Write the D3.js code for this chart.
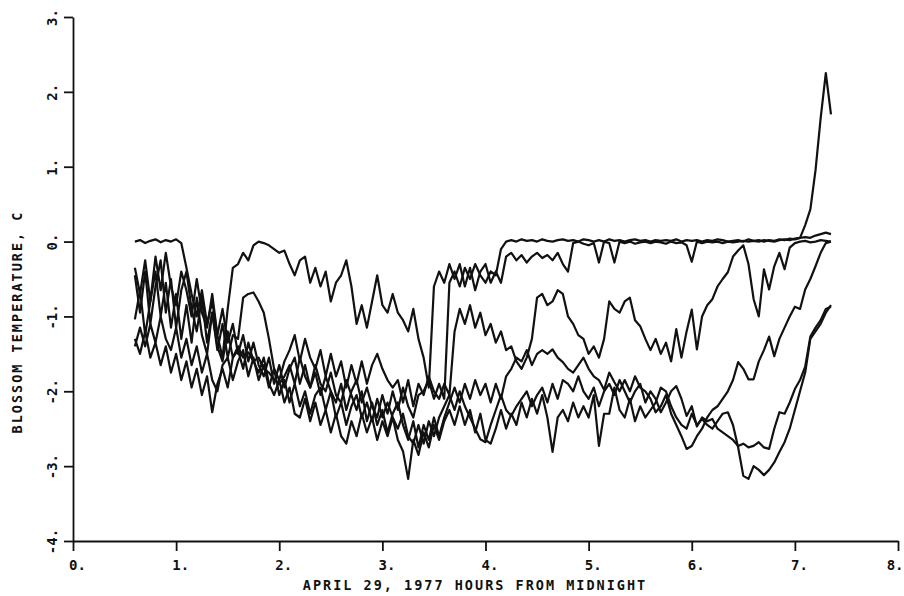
<!DOCTYPE html>
<html>
<head>
<meta charset="utf-8">
<script src="https://cdn.jsdelivr.net/npm/d3@7"></script>
<style>
  body { margin: 0; background: #fff; }
  text { font-family: "DejaVu Sans Mono", monospace; font-weight: bold; fill: #111; }
</style>
</head>
<body>
<svg width="904" height="596"></svg>
<script>
var svg = d3.select("svg"),
    width = +svg.attr("width"),
    height = +svg.attr("height");

// readings: one value every 0.05 h, starting at 0.60 h
var startHour = 0.6, stepHour = 0.05;

var xTicks = [0, 1, 2, 3, 4, 5, 6, 7, 8];
var yTicks = [-4, -3, -2, -1, 0, 1, 2, 3];

var blossom1 = [
  0.0, 0.02, -0.02, 0.01, 0.03, -0.01, 0.02, 0.0, 0.03, -0.02,
  -0.35, -0.7, -1.0, -0.65, -1.1, -0.8, -1.25, -0.9, -1.35, -1.1,
  -1.5, -1.25, -1.6, -1.35, -1.65, -1.8, -1.55, -1.9, -1.65, -1.95,
  -1.7, -1.55, -1.9, -1.65, -1.95, -1.75, -2.05, -1.8, -2.0, -2.15,
  -1.9, -2.25, -2.0, -1.85, -2.15, -1.95, -2.2, -2.35, -2.05, -2.3,
  -2.0, -2.25, -1.95, -2.2, -2.35, -2.05, -2.0, -1.85, -2.1, -1.9,
  -2.1, -0.55, -0.4, -0.6, -0.35, -0.5, -0.3, -0.45, -0.55, -0.4,
  -0.45, -0.1, 0.0, 0.02, 0.0, 0.03, 0.01, 0.02, 0.0, 0.03,
  0.01, 0.0, 0.02, 0.03, 0.01, 0.02, 0.0, 0.03, 0.02, 0.0,
  0.02, 0.0, 0.03, 0.01, 0.02, 0.0, 0.02, 0.03, 0.01, 0.02,
  0.0, 0.02, 0.01, 0.02, 0.01, 0.03, 0.0, 0.02, 0.01, 0.02,
  0.0, 0.02, 0.01, 0.03, 0.02, 0.0, 0.01, 0.02, 0.0, 0.03,
  0.01, 0.02, 0.0, 0.02, 0.01, 0.03, 0.02, 0.04, 0.03, 0.05,
  0.22, 0.43, 0.95, 1.65, 2.25, 1.7
];

var blossom2 = [
  -0.35, -0.7, -0.25, -0.8, -0.2, -0.65, -0.15, -0.6, -0.85, -0.4,
  -0.65, -1.0, -0.5, -0.95, -1.15, -0.7, -1.25, -1.55, -0.9, -0.35,
  -0.3, -0.15, -0.25, -0.05, 0.0, -0.02, -0.05, -0.1, -0.15, -0.12,
  -0.3, -0.45, -0.25, -0.2, -0.55, -0.35, -0.6, -0.4, -0.8, -0.55,
  -0.45, -0.25, -0.6, -1.1, -0.85, -1.15, -0.8, -0.45, -0.85, -0.95,
  -0.7, -0.95, -1.05, -1.2, -0.9, -1.3, -1.55, -1.95, -0.6, -0.4,
  -0.55, -0.3, -0.5, -0.3, -0.6, -0.35, -0.65, -0.4, -0.3, -0.55,
  -0.4, -0.55, -0.2, -0.15, -0.25, -0.18, -0.28, -0.2, -0.15, -0.22,
  -0.18, -0.25, -0.15, -0.3, -0.4, -0.02, 0.0, -0.03, -0.05, -0.02,
  -0.28, 0.0, -0.02, -0.28, 0.0, -0.02, 0.0, -0.03, -0.01, 0.0,
  -0.02, 0.0, -0.01, -0.03, 0.0, -0.02, -0.01, -0.05, -0.27, 0.0,
  -0.02, 0.0, -0.01, 0.0, -0.02, 0.0, -0.01, 0.0, 0.01, 0.0,
  0.01, 0.0, 0.02, 0.01, 0.0, 0.02, 0.03, 0.02, 0.04, 0.05,
  0.06, 0.05, 0.08, 0.1, 0.12, 0.1
];

var blossom3 = [
  -0.45, -0.95, -0.4, -1.1, -0.6, -0.25, -0.95, -0.5, -1.15, -0.65,
  -0.4, -0.9, -1.2, -0.75, -1.35, -0.95, -1.45, -1.1, -1.55, -1.25,
  -1.3, -0.75, -0.7, -0.68, -0.8, -0.95, -1.3, -1.7, -1.85, -1.6,
  -1.45, -1.25, -1.6, -1.3, -1.55, -1.7, -1.45, -1.8, -1.5, -1.8,
  -1.6, -1.95, -1.65, -1.9, -1.6, -1.9, -1.65, -1.5, -1.7, -1.85,
  -1.95, -1.85, -2.15, -1.85, -2.2, -1.9, -2.05, -1.8, -2.0, -2.1,
  -1.9, -2.05, -1.2, -0.9, -1.1, -0.85, -1.15, -0.95, -1.25, -1.1,
  -1.35, -1.2, -1.45, -1.4, -1.6, -1.7, -1.55, -1.3, -0.75, -0.7,
  -0.85, -0.8, -0.65, -0.7, -1.0, -1.1, -1.25, -1.3, -1.5, -1.4,
  -1.55, -1.3, -0.8, -0.9, -0.95, -0.8, -0.75, -1.05, -1.13, -1.3,
  -1.45, -1.3, -1.5, -1.35, -1.6, -1.17, -1.55, -1.2, -0.91, -1.44,
  -1.0, -0.85, -0.77, -0.6, -0.5, -0.41, -0.2, -0.12, -0.05, -0.3,
  -0.77, -1.0, -0.37, -0.64, -0.33, -0.15, -0.37, -0.08, -0.02, 0.0,
  0.01, -0.01, 0.0, 0.02, 0.01, 0.0
];

var blossom4 = [
  -1.04, -0.65, -1.25, -0.8, -0.4, -1.0, -0.55, -1.15, -0.7, -1.3,
  -0.85, -1.35, -0.75, -1.25, -1.5, -0.95, -1.4, -1.6, -1.2, -1.55,
  -1.4, -1.55, -1.48, -1.6, -1.55, -1.7, -1.75, -1.84, -1.9, -1.8,
  -1.65, -1.9, -1.55, -1.8, -1.95, -1.65, -1.9, -2.0, -1.75, -2.05,
  -2.15, -1.85, -2.05, -2.25, -2.0, -2.4, -2.15, -2.45, -2.25, -2.55,
  -2.3, -2.15, -2.45, -2.65, -2.4, -2.75, -2.45, -2.65, -2.35, -2.6,
  -2.35, -2.15, -1.95, -2.15, -1.9, -2.1, -1.85, -2.05, -1.9, -2.15,
  -1.9, -2.1, -1.8, -1.7, -1.55, -1.6, -1.45, -1.65, -1.5, -1.45,
  -1.5, -1.44, -1.55, -1.61, -1.7, -1.75, -1.65, -1.55, -1.7, -1.8,
  -1.85, -1.98, -1.75, -1.88, -2.0, -1.85, -2.0, -1.8, -1.95, -2.0,
  -2.1, -2.28, -2.2, -2.05, -2.3, -2.45, -2.6, -2.77, -2.73, -2.6,
  -2.5, -2.35, -2.25, -2.2, -2.1, -2.0, -1.85, -1.61, -1.7, -1.84,
  -1.84, -1.6, -1.45, -1.27, -1.53, -1.3, -1.15, -1.0, -0.87, -0.9,
  -0.64, -0.5, -0.33, -0.15, -0.02, 0.0
];

var blossom5 = [
  -1.3, -1.5, -1.2, -1.55, -1.35, -1.65, -1.4, -1.75, -1.5, -1.85,
  -1.6, -1.95, -1.7, -2.05, -1.8, -2.28, -1.9, -1.7, -1.95, -1.55,
  -1.45, -1.7, -1.35, -1.6, -1.75, -1.55, -1.9, -2.05, -1.85, -2.15,
  -1.95, -2.3, -2.35, -2.1, -2.4, -2.15, -2.45, -2.25, -2.55, -2.3,
  -2.6, -2.7, -2.4, -2.6, -2.3, -2.55, -2.35, -2.65, -2.4, -2.6,
  -2.35, -2.65, -2.8, -3.17, -2.65, -2.85, -2.55, -2.75, -2.45, -2.65,
  -2.4, -2.25, -2.45, -2.2, -2.45, -2.25, -2.55, -2.3, -2.65, -2.7,
  -2.5, -2.25, -2.5, -2.3, -2.45, -2.15, -2.35, -2.1, -2.3, -2.05,
  -2.35, -2.81, -2.35, -2.25, -2.4, -2.15, -2.35, -2.2, -2.35, -2.05,
  -2.73, -2.3, -2.3, -1.95, -2.25, -2.35, -2.1, -2.4, -2.2, -2.35,
  -2.25, -2.15, -1.95, -2.0, -2.2, -2.35, -2.45, -2.5, -2.3, -2.45,
  -2.37, -2.45, -2.5, -2.4, -2.3, -2.28, -2.45, -2.75, -3.13, -3.17,
  -3.0, -3.05, -3.12, -3.05, -2.95, -2.81, -2.68, -2.5, -2.25, -2.0,
  -1.75, -1.3, -1.2, -1.1, -0.95, -0.85
];

var blossom6 = [
  -1.4, -1.15, -1.4, -1.1, -1.35, -1.0, -1.3, -1.45, -1.15, -1.55,
  -1.3, -1.65, -1.4, -1.75, -1.5, -1.85, -2.0, -1.65, -1.55, -1.85,
  -1.6, -1.45, -1.8, -1.55, -1.85, -1.65, -1.95, -1.7, -2.05, -1.85,
  -2.15, -1.9, -2.2, -2.0, -2.3, -2.05, -1.95, -2.25, -2.0, -2.35,
  -2.15, -2.45, -2.2, -2.05, -2.35, -2.15, -2.4, -2.1, -2.35, -2.15,
  -2.35, -2.5, -2.3, -2.6, -2.7, -2.45, -2.7, -2.4, -2.6, -2.35,
  -2.2, -2.05, -2.25, -2.0, -2.2, -2.35, -2.5, -2.64, -2.68, -2.45,
  -2.25, -2.05, -2.25, -2.33, -2.2, -2.1, -2.0, -2.2, -2.05, -1.95,
  -2.15, -1.9, -2.1, -1.85, -1.9, -2.0, -1.8, -2.0, -2.1, -1.95,
  -2.2, -2.0, -1.9, -2.05, -1.85, -2.0, -2.15, -2.0, -1.9, -2.15,
  -2.0, -2.1, -2.28, -2.15, -2.0, -1.93, -2.1, -2.33, -2.2, -2.47,
  -2.35, -2.4, -2.37, -2.5, -2.55, -2.6, -2.65, -2.73, -2.7, -2.75,
  -2.73, -2.68, -2.75, -2.77, -2.5, -2.28, -2.3, -2.15, -1.97, -1.85,
  -1.67, -1.27, -1.15, -1.05, -0.9, -0.87
];

var series = [blossom1, blossom2, blossom3, blossom4, blossom5, blossom6];

var x = d3.scaleLinear().domain([0, 8]).range([73, 898]);
var y = d3.scaleLinear().domain([-4, 3]).range([541, 17]);

// x axis, ticks hang below the line
var xAxis = svg.append("g")
    .attr("transform", "translate(0," + y(-4) + ")")
    .call(d3.axisBottom(x).tickValues(xTicks).tickSize(10).tickSizeOuter(0)
        .tickFormat(function (d) { return d + "."; }));
// digit sits on the tick, the point trails after it
xAxis.selectAll("text")
    .attr("y", 29).attr("dy", 0).attr("x", 4)
    .style("font-size", "14px");
// last label would run off the right edge
xAxis.selectAll("text")
    .filter(function (d) { return d === 8; })
    .attr("text-anchor", "end")
    .attr("x", 5);

// y axis, labels turned on their side
var yAxis = svg.append("g")
    .attr("transform", "translate(" + x(0) + ",0)")
    .call(d3.axisLeft(y).tickValues(yTicks).tickSize(9).tickSizeOuter(0)
        .tickFormat(function (d) { return (d < 0 ? "-" : "") + Math.abs(d) + "."; }));
yAxis.selectAll("text")
    .attr("x", null).attr("dy", 0)
    .attr("text-anchor", "middle")
    .attr("transform", "translate(-16,0) rotate(-90)")
    .style("font-size", "14px");

svg.selectAll(".domain, .tick line")
    .attr("stroke", "#111")
    .attr("stroke-width", 1.8);

// axis titles
svg.append("text")
    .attr("x", 475).attr("y", 590)
    .attr("text-anchor", "middle")
    .style("font-size", "13.5px")
    .style("letter-spacing", "2px")
    .text("APRIL 29, 1977 HOURS FROM MIDNIGHT");

svg.append("text")
    .attr("transform", "translate(22,322) rotate(-90)")
    .attr("text-anchor", "middle")
    .style("font-size", "13.5px")
    .style("letter-spacing", "2px")
    .text("BLOSSOM TEMPERATURE, C");

// blossom traces
var line = d3.line()
    .x(function (d, i) { return x(startHour + i * stepHour); })
    .y(function (d) { return y(d); });

svg.append("g")
    .selectAll("path")
    .data(series)
    .enter().append("path")
    .attr("d", line)
    .attr("fill", "none")
    .attr("stroke", "#111")
    .attr("stroke-width", 2.2)
    .attr("stroke-linejoin", "round");
</script>
</body>
</html>
